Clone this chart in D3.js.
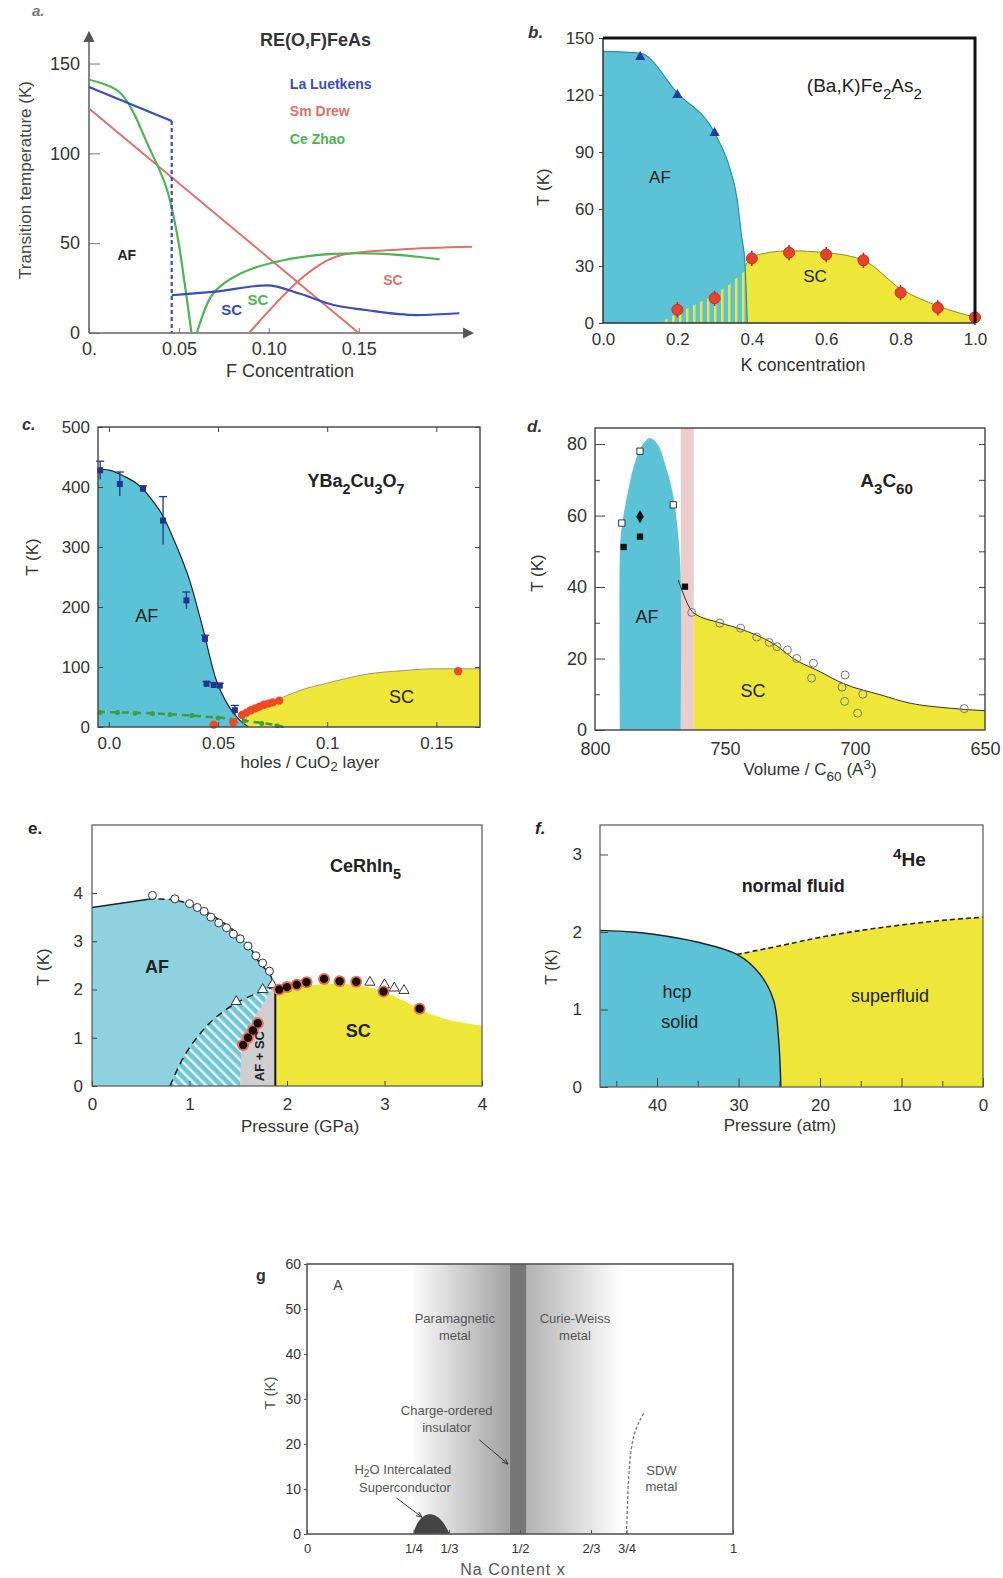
<!DOCTYPE html>
<html>
<head>
<meta charset="utf-8">
<script src="https://cdn.jsdelivr.net/npm/d3@7"></script>
<style>
  body { margin: 0; background: #fff; }
  svg text { font-family: "Liberation Sans", Arial, Helvetica, sans-serif; }
</style>
</head>
<body>
<svg id="fig" width="1003" height="1578"></svg>
<script>
// ---------- data: a. RE(O,F)FeAs ----------
const aXTicks = [0, 0.05, 0.10, 0.15];
const aXTickLabels = ["0.", "0.05", "0.10", "0.15"];
const aYTicks = [0, 50, 100, 150];
const aLaAF = [[0, 137], [0.046, 118]];
const aLaDrop = [[0.046, 118], [0.046, 0]];
const aLaSC = [[0.046, 21], [0.07, 23], [0.099, 26.5], [0.117, 22], [0.136, 15.6], [0.154, 12.8], [0.182, 10], [0.206, 11]];
const aSmAF = [[0, 125], [0.15, 0]];
const aSmSC = [[0.089, 0], [0.143, 44], [0.173, 46.5], [0.213, 48]];
const aCeAF = [[0, 141], [0.017, 134], [0.034, 102], [0.043, 81], [0.049, 55], [0.053, 29], [0.057, 0]];
const aCeSC = [[0.06, 0], [0.069, 22], [0.084, 33], [0.108, 40.5], [0.136, 44], [0.164, 44], [0.195, 41]];
const aLegend = ["La  Luetkens", "Sm  Drew", "Ce  Zhao"];

// ---------- data: b. (Ba,K)Fe2As2 ----------
const bXTicks = [0, 0.2, 0.4, 0.6, 0.8, 1.0];
const bYTicks = [0, 30, 60, 90, 120, 150];
const bAF = [[0, 143], [0.1, 142], [0.2, 121], [0.3, 100], [0.34, 82], [0.36, 66], [0.373, 45], [0.381, 33], [0.388, 0]];
const bSC = [[0.383, 30], [0.4, 35], [0.5, 38], [0.6, 37], [0.7, 33], [0.8, 18], [0.9, 9], [1.0, 3]];
const bCoex = [[0.15, 0], [0.2, 5], [0.25, 10], [0.3, 15], [0.35, 22], [0.385, 28]];
const bNeel = [[0.1, 140], [0.2, 120], [0.3, 100]];
const bTc = [[0.2, 7], [0.3, 13], [0.4, 34], [0.5, 37], [0.6, 36], [0.7, 33], [0.8, 16], [0.9, 8], [1.0, 3]];

// ---------- data: c. YBa2Cu3O7 ----------
const cXTicks = [0, 0.05, 0.1, 0.15];
const cXTickLabels = ["0.0", "0.05", "0.1", "0.15"];
const cYTicks = [0, 100, 200, 300, 400, 500];
const cAF = [[-0.005, 430], [0.0, 428], [0.007, 418], [0.013, 405], [0.019, 382], [0.025, 350], [0.03, 310], [0.037, 244], [0.043, 165], [0.049, 80], [0.055, 34], [0.06, 11], [0.064, 0]];
const cSC = [[0.061, 0], [0.063, 15], [0.067, 28], [0.072, 39], [0.08, 50], [0.0875, 61], [0.1, 73], [0.118, 88], [0.135, 94], [0.149, 97], [0.17, 97]];
const cNeel = [[-0.004, 428], [0.005, 405], [0.0156, 397], [0.0248, 344], [0.0355, 211], [0.044, 147], [0.0447, 72], [0.048, 70], [0.0508, 69], [0.0577, 28]];
const cNeelErr = [15, 20, 5, 40, 14, 6, 4, 4, 4, 8];
const cTc = [[0.048, 4], [0.057, 8], [0.061, 20], [0.063, 24], [0.065, 28], [0.067, 31], [0.069, 34], [0.071, 37], [0.073, 39], [0.075, 41], [0.078, 44], [0.16, 93]];
const cSpinGlass = [[-0.005, 25], [0.01, 24], [0.03, 21], [0.045, 17], [0.055, 14], [0.065, 9], [0.075, 4], [0.08, 0]];
const cSpinGlassPts = [[-0.004, 24], [0.004, 24], [0.012, 23], [0.02, 22], [0.028, 21], [0.038, 19], [0.05, 15], [0.062, 10], [0.07, 6], [0.077, 2]];

// ---------- data: d. A3C60 ----------
const dXTicks = [800, 750, 700, 650];
const dYTicks = [0, 20, 40, 60, 80];
const dAF = [[790.4, 0], [790.4, 50], [789.7, 57], [787.5, 66], [785, 74], [782, 79.5], [779, 81.7], [776, 80], [772.4, 72.8], [770, 66], [768.6, 58.8], [767.5, 50], [767, 42], [767, 0]];
const dSC = [[762, 32.7], [752, 30], [743, 28], [730, 23.5], [723.7, 20], [714, 16.5], [704.5, 13], [690, 9.8], [678.8, 7.5], [665, 6.2], [650, 5.4]];
const dBand = [767, 762];
const dOpenSq = [[789.7, 57.9], [782.7, 78], [769.9, 63]];
const dFilledSq = [[789, 51.2], [782.7, 54.1], [765.4, 40.1]];
const dDiamond = [[782.7, 59.7]];
const dOpenCirc = [[762.8, 32.9], [752, 29.9], [744, 28.5], [737.8, 26], [733, 24.5], [730, 23.3], [726, 22.4], [722.4, 20], [716, 18.7], [716.7, 14.5], [703.8, 15.4], [705, 12], [704, 8], [699, 4.7], [697, 10], [658, 6]];

// ---------- data: e. CeRhIn5 ----------
const eXTicks = [0, 1, 2, 3, 4];
const eYTicks = [0, 1, 2, 3, 4];
const eAFTop = [[0, 3.7], [0.58, 3.87], [0.83, 3.86], [1.07, 3.72], [1.38, 3.34], [1.59, 2.96], [1.72, 2.55], [1.83, 2.3], [1.86, 2.06]];
const eCoexRight = [[1.86, 2.05], [1.76, 1.72], [1.65, 1.37], [1.55, 0.89], [1.52, 0]];
const eCoexLeft = [[0.8, 0], [0.94, 0.6], [1.11, 1.09], [1.28, 1.44], [1.48, 1.72], [1.69, 1.92], [1.86, 2.05]];
const eSC = [[1.88, 2.0], [2.2, 2.08], [2.5, 2.12], [2.8, 2.06], [3.0, 1.95], [3.2, 1.76], [3.4, 1.55], [3.7, 1.35], [4.0, 1.25]];
const eBorder = 1.88;
const eOpenCirc = [[0.62, 3.95], [0.85, 3.88], [1.0, 3.78], [1.08, 3.7], [1.15, 3.62], [1.22, 3.5], [1.3, 3.38], [1.38, 3.28], [1.45, 3.15], [1.52, 3.05], [1.6, 2.9], [1.68, 2.7], [1.75, 2.55], [1.82, 2.38]];
const eTriangles = [[1.48, 1.75], [1.75, 2.0], [1.85, 2.1], [2.85, 2.15], [3.0, 2.1], [3.1, 2.03], [3.2, 1.98]];
const eDots = [[1.55, 0.85], [1.6, 1.0], [1.65, 1.15], [1.7, 1.3], [1.92, 2.0], [2.0, 2.05], [2.1, 2.1], [2.2, 2.15], [2.38, 2.22], [2.54, 2.17], [2.71, 2.16], [2.99, 1.96], [3.36, 1.6]];

// ---------- data: f. 4He ----------
const fXTicks = [40, 30, 20, 10, 0];
const fXMinor = [45, 35, 25, 15, 5];
const fYTicks = [0, 1, 2, 3];
const fSolid = [[47, 2.02], [43, 2.0], [40.4, 1.97], [35.1, 1.87], [30.2, 1.71], [27.4, 1.46], [25.7, 1.12], [25.1, 0.64], [24.8, 0]];
const fLambda = [[30.2, 1.71], [25, 1.82], [20, 1.93], [15, 2.02], [10, 2.09], [5, 2.15], [0, 2.19]];

// ---------- data: g. NaxCoO2 ----------
const gXTicks = [0, 1 / 4, 1 / 3, 1 / 2, 2 / 3, 3 / 4, 1];
const gXTickLabels = ["0", "1/4", "1/3", "1/2", "2/3", "3/4", "1"];
const gYTicks = [0, 10, 20, 30, 40, 50, 60];
const gGradLeft = [0.25, 0.476];
const gBand = [0.476, 0.515];
const gGradRight = [0.515, 0.74];
const gDome = [[0.249, 0], [0.258, 2.5], [0.274, 4.2], [0.29, 4.5], [0.306, 4.0], [0.322, 2.4], [0.335, 0]];
const gSDW = [[0.75, 0], [0.752, 6], [0.755, 12], [0.76, 18], [0.768, 22], [0.78, 25], [0.793, 27.2]];

// ---------- drawing ----------
const CYAN = "#5cc3d7", LIGHTCYAN = "#8ed2e0", YELLOW = "#eee638", FONT = '"Liberation Sans", Arial, sans-serif';
const svg = d3.select("#fig");
const defs = svg.append("defs");
const intFmt = d3.format("d");

defs.append("marker").attr("id", "arrow").attr("viewBox", "0 0 10 10")
  .attr("refX", 8).attr("refY", 5).attr("markerWidth", 7).attr("markerHeight", 7)
  .attr("orient", "auto-start-reverse")
  .append("path").attr("d", "M0,0L10,5L0,10z").attr("fill", "#555");
defs.append("marker").attr("id", "thinArrow").attr("viewBox", "0 0 10 10")
  .attr("refX", 9).attr("refY", 5).attr("markerWidth", 6).attr("markerHeight", 6)
  .attr("orient", "auto")
  .append("path").attr("d", "M0,1L10,5L0,9").attr("fill", "none").attr("stroke", "#333").attr("stroke-width", 1.5);

const stripes = defs.append("pattern").attr("id", "stripes").attr("patternUnits", "userSpaceOnUse")
  .attr("width", 7).attr("height", 10);
stripes.append("rect").attr("width", 2.5).attr("height", 10).attr("fill", YELLOW);

const hatch = defs.append("pattern").attr("id", "hatch").attr("patternUnits", "userSpaceOnUse")
  .attr("width", 7).attr("height", 7).attr("patternTransform", "rotate(-45)");
hatch.append("rect").attr("width", 7).attr("height", 7).attr("fill", "#6fc6d8");
hatch.append("rect").attr("width", 2.5).attr("height", 7).attr("fill", "#e4f2f4");

// text with sub/superscripts: parts are strings or [str, 1=sub / -1=sup]
function rich(g, x, y, parts, size, o = {}) {
  const t = g.append("text").attr("x", x).attr("y", y)
    .attr("font-size", size)
    .attr("text-anchor", o.anchor || "start")
    .attr("font-weight", o.weight || "normal")
    .attr("font-style", o.style || "normal")
    .attr("fill", o.fill || "#222");
  if (o.rotate) t.attr("transform", `rotate(${o.rotate},${x},${y})`);
  if (o.dy) t.attr("dy", o.dy);
  let shift = 0;
  parts.forEach(p => {
    const str = typeof p === "string" ? p : p[0];
    const k = typeof p === "string" ? 0 : p[1];
    const target = k * size * 0.38;
    t.append("tspan").text(str).attr("dy", target - shift).attr("font-size", k ? size * 0.8 : size);
    shift = target;
  });
  return t;
}

function styleAxis(sel, size, color) {
  sel.attr("font-size", size).attr("font-family", FONT).attr("color", color || "#444");
  sel.selectAll("text").attr("fill", "#333");
}

function frame(g, x, y, color, w) {
  const [x0, x1] = x.range(), [y0, y1] = y.range();
  g.append("rect").attr("x", Math.min(x0, x1)).attr("y", Math.min(y0, y1))
    .attr("width", Math.abs(x1 - x0)).attr("height", Math.abs(y1 - y0))
    .attr("fill", "none").attr("stroke", color || "#444").attr("stroke-width", w || 1.2);
}

function dots(g, pts, x, y, r, fill, stroke, sw) {
  g.selectAll(null).data(pts).enter().append("circle")
    .attr("cx", d => x(d[0])).attr("cy", d => y(d[1])).attr("r", r)
    .attr("fill", fill).attr("stroke", stroke || "none").attr("stroke-width", sw || 1);
}

function symbols(g, pts, x, y, type, size, fill, stroke, sw) {
  g.selectAll(null).data(pts).enter().append("path")
    .attr("transform", d => `translate(${x(d[0])},${y(d[1])})`)
    .attr("d", d3.symbol().type(type).size(size))
    .attr("fill", fill).attr("stroke", stroke || "none").attr("stroke-width", sw || 1);
}

// continue an open path with straight segments to the given data points
const lineTo = (x, y, pts) => pts.map(d => `L${x(d[0])},${y(d[1])}`).join("");

// ===== a. RE(O,F)FeAs =====
(function () {
  const g = svg.append("g");
  const x = d3.scaleLinear().domain([0, 0.213]).range([89, 472]);
  const y = d3.scaleLinear().domain([0, 167]).range([333, 33]);
  const lin = d3.line().x(d => x(d[0])).y(d => y(d[1]));
  const smooth = d3.line().x(d => x(d[0])).y(d => y(d[1])).curve(d3.curveMonotoneX);

  g.append("g").attr("transform", `translate(0,${y(0)})`)
    .call(d3.axisBottom(x).tickValues(aXTicks).tickFormat((d, i) => aXTickLabels[i]).tickSizeInner(-5).tickSizeOuter(0).tickPadding(9))
    .call(s => s.select(".domain").remove()).call(s => styleAxis(s, 18, "#777"));
  g.append("g").attr("transform", `translate(${x(0)},0)`)
    .call(d3.axisLeft(y).tickValues(aYTicks).tickSizeInner(-11).tickSizeOuter(0).tickPadding(9))
    .call(s => s.select(".domain").remove()).call(s => styleAxis(s, 18, "#777"));
  g.append("path").attr("d", lin([[0, 0], [0.213, 0]])).attr("stroke", "#666").attr("stroke-width", 1.6).attr("marker-end", "url(#arrow)");
  g.append("path").attr("d", lin([[0, 0], [0, 167]])).attr("stroke", "#666").attr("stroke-width", 1.6).attr("marker-end", "url(#arrow)");

  const red = "#e0706c", green = "#4fb352", blue = "#3a4cc0";
  [aSmAF, aSmSC].forEach(c => g.append("path").attr("d", smooth(c)).attr("fill", "none").attr("stroke", red).attr("stroke-width", 2));
  [aCeAF, aCeSC].forEach(c => g.append("path").attr("d", d3.line().x(d => x(d[0])).y(d => y(d[1])).curve(d3.curveCatmullRom)(c)).attr("fill", "none").attr("stroke", green).attr("stroke-width", 2.2));
  g.append("path").attr("d", lin(aLaAF)).attr("fill", "none").attr("stroke", blue).attr("stroke-width", 2.2);
  g.append("path").attr("d", lin(aLaDrop)).attr("fill", "none").attr("stroke", blue).attr("stroke-width", 2.2).attr("stroke-dasharray", "4,3");
  g.append("path").attr("d", smooth(aLaSC)).attr("fill", "none").attr("stroke", blue).attr("stroke-width", 2.2);

  rich(g, x(0.126), y(160), ["RE(O,F)FeAs"], 18, { anchor: "middle", weight: "bold", fill: "#333", dy: "0.35em" });
  [blue, red, green].forEach((c, i) =>
    rich(g, x(0.1117), y(136 - i * 15.3), [aLegend[i]], 14, { weight: "bold", fill: c, dy: "0.35em" }));
  rich(g, x(0.021), y(40.5), ["AF"], 14, { anchor: "middle", weight: "bold", dy: "0.35em" });
  rich(g, x(0.0794), y(10), ["SC"], 15, { anchor: "middle", weight: "bold", fill: blue, dy: "0.35em" });
  rich(g, x(0.0939), y(15.6), ["SC"], 15, { anchor: "middle", weight: "bold", fill: green, dy: "0.35em" });
  rich(g, x(0.169), y(26.7), ["SC"], 14, { anchor: "middle", weight: "bold", fill: red, dy: "0.35em" });
  rich(g, 290, 377, ["F Concentration"], 18, { anchor: "middle", fill: "#333" });
  rich(g, 31, 180, ["Transition temperature (K)"], 17, { anchor: "middle", fill: "#444", rotate: -90 });
  rich(g, 32, 16, ["a."], 15, { style: "italic", weight: "bold", fill: "#777" });
})();

// ===== b. (Ba,K)Fe2As2 =====
(function () {
  const g = svg.append("g");
  const x = d3.scaleLinear().domain([0, 1]).range([603, 975]);
  const y = d3.scaleLinear().domain([0, 150]).range([323, 38]);
  const area = d3.area().x(d => x(d[0])).y0(y(0)).y1(d => y(d[1])).curve(d3.curveMonotoneX);
  const smooth = d3.line().x(d => x(d[0])).y(d => y(d[1])).curve(d3.curveMonotoneX);

  g.append("path").attr("d", area(bSC)).attr("fill", YELLOW);
  g.append("path").attr("d", area(bAF)).attr("fill", CYAN);
  g.append("path").attr("d", area(bCoex)).attr("fill", "url(#stripes)");
  g.append("path").attr("d", smooth(bAF)).attr("fill", "none").attr("stroke", "#2a8fa8").attr("stroke-width", 1.2);
  g.append("path").attr("d", smooth(bSC)).attr("fill", "none").attr("stroke", "#8a8a30").attr("stroke-width", 1);

  // error bars + markers
  g.selectAll(null).data(bTc).enter().append("line")
    .attr("x1", d => x(d[0])).attr("x2", d => x(d[0]))
    .attr("y1", d => y(d[1] - 4)).attr("y2", d => y(d[1] + 4))
    .attr("stroke", "#9a2a1a").attr("stroke-width", 1.5);
  dots(g, bTc, x, y, 5.5, "#e8412c", "#c0301e", 1);
  symbols(g, bNeel, x, y, d3.symbolTriangle, 45, "#203c9c");

  g.append("g").attr("transform", `translate(0,${y(0)})`)
    .call(d3.axisBottom(x).tickValues(bXTicks).tickFormat(d3.format(".1f")).tickSizeInner(0).tickSizeOuter(0).tickPadding(10))
    .call(s => s.select(".domain").remove()).call(s => styleAxis(s, 17));
  g.append("g").attr("transform", `translate(${x(0)},0)`)
    .call(d3.axisLeft(y).tickValues(bYTicks).tickFormat(intFmt).tickSizeInner(4).tickSizeOuter(0).tickPadding(5))
    .call(s => s.select(".domain").remove()).call(s => styleAxis(s, 17));
  const lin = d3.line().x(d => x(d[0])).y(d => y(d[1]));
  g.append("path").attr("d", lin([[0, 150], [0, 0], [1, 0]])).attr("fill", "none").attr("stroke", "#333").attr("stroke-width", 1.5);
  g.append("path").attr("d", lin([[0, 150], [1, 150], [1, 0]])).attr("fill", "none").attr("stroke", "#111").attr("stroke-width", 3);

  rich(g, x(0.548), y(121.7), ["(Ba,K)Fe", ["2", 1], "As", ["2", 1]], 19, { fill: "#222" });
  rich(g, x(0.153), y(73.7), ["AF"], 17, { anchor: "middle", dy: "0.35em" });
  rich(g, x(0.57), y(21.6), ["SC"], 17, { anchor: "middle", dy: "0.35em" });
  rich(g, 803, 371, ["K concentration"], 18, { anchor: "middle", fill: "#333" });
  rich(g, 549, 187, ["T  (K)"], 17, { anchor: "middle", fill: "#333", rotate: -90 });
  rich(g, 528, 38, ["b."], 17, { style: "italic", weight: "bold", fill: "#333" });
})();

// ===== c. YBa2Cu3O7 =====
(function () {
  const g = svg.append("g");
  const x = d3.scaleLinear().domain([-0.005, 0.17]).range([98, 480]);
  const y = d3.scaleLinear().domain([0, 500]).range([727, 427]);
  const area = d3.area().x(d => x(d[0])).y0(y(0)).y1(d => y(d[1])).curve(d3.curveMonotoneX);
  const smooth = d3.line().x(d => x(d[0])).y(d => y(d[1])).curve(d3.curveMonotoneX);

  g.append("path").attr("d", area(cSC)).attr("fill", YELLOW);
  g.append("path").attr("d", area(cAF)).attr("fill", CYAN);
  g.append("path").attr("d", smooth(cAF)).attr("fill", "none").attr("stroke", "#223").attr("stroke-width", 1.2);
  g.append("path").attr("d", smooth(cSC)).attr("fill", "none").attr("stroke", "#997").attr("stroke-width", 1);
  g.append("path").attr("d", smooth(cSpinGlass)).attr("fill", "none").attr("stroke", "#3d9c3d").attr("stroke-width", 2.5).attr("stroke-dasharray", "7,5");
  dots(g, cSpinGlassPts, x, y, 2.5, "#3aa040");
  dots(g, cTc, x, y, 4.2, "#ee4a22");

  // Neel points with error bars
  g.selectAll(null).data(cNeel).enter().append("line")
    .attr("x1", d => x(d[0])).attr("x2", d => x(d[0]))
    .attr("y1", (d, i) => y(d[1] - cNeelErr[i])).attr("y2", (d, i) => y(d[1] + cNeelErr[i]))
    .attr("stroke", "#223388").attr("stroke-width", 1.3);
  g.selectAll(null).data(cNeel).enter().append("line")
    .attr("x1", d => x(d[0]) - 4).attr("x2", d => x(d[0]) + 4)
    .attr("y1", (d, i) => y(d[1] + cNeelErr[i])).attr("y2", (d, i) => y(d[1] + cNeelErr[i]))
    .attr("stroke", "#223388").attr("stroke-width", 1.3);
  symbols(g, cNeel, x, y, d3.symbolSquare, 36, "#22338c");

  const ax = s => s.call(t => t.select(".domain").remove());
  g.append("g").attr("transform", `translate(0,${y(0)})`)
    .call(d3.axisBottom(x).tickValues(cXTicks).tickFormat((d, i) => cXTickLabels[i]).tickSizeInner(-5).tickSizeOuter(0).tickPadding(10))
    .call(ax).call(s => styleAxis(s, 17));
  g.append("g").attr("transform", `translate(0,${y(500)})`)
    .call(d3.axisTop(x).tickValues(cXTicks).tickFormat("").tickSizeInner(-5).tickSizeOuter(0)).call(ax).call(s => styleAxis(s, 17));
  g.append("g").attr("transform", `translate(${x(-0.005)},0)`)
    .call(d3.axisLeft(y).tickValues(cYTicks).tickFormat(intFmt).tickSizeInner(-5).tickSizeOuter(0).tickPadding(8))
    .call(ax).call(s => styleAxis(s, 17));
  g.append("g").attr("transform", `translate(${x(0.17)},0)`)
    .call(d3.axisRight(y).tickValues(cYTicks).tickFormat("").tickSizeInner(-5).tickSizeOuter(0)).call(ax).call(s => styleAxis(s, 17));
  frame(g, x, y, "#444", 1.4);

  rich(g, x(0.091), y(400), ["YBa", ["2", 1], "Cu", ["3", 1], "O", ["7", 1]], 18, { weight: "bold", fill: "#222" });
  rich(g, x(0.0173), y(175), ["AF"], 18, { anchor: "middle", dy: "0.35em" });
  rich(g, x(0.134), y(40), ["SC"], 18, { anchor: "middle", dy: "0.35em" });
  rich(g, 310, 768, ["holes / CuO", ["2", 0.5], " layer"], 17, { anchor: "middle", fill: "#333" });
  rich(g, 38, 557, ["T  (K)"], 17, { anchor: "middle", fill: "#333", rotate: -90 });
  rich(g, 22, 430, ["c."], 16, { style: "italic", weight: "bold", fill: "#333" });
})();

// ===== d. A3C60 =====
(function () {
  const g = svg.append("g");
  const x = d3.scaleLinear().domain([800, 650]).range([595, 985]);
  const y = d3.scaleLinear().domain([0, 84.5]).range([730, 428]);
  const area = d3.area().x(d => x(d[0])).y0(y(0)).y1(d => y(d[1])).curve(d3.curveMonotoneX);
  const smooth = d3.line().x(d => x(d[0])).y(d => y(d[1])).curve(d3.curveMonotoneX);
  const cr = d3.line().x(d => x(d[0])).y(d => y(d[1])).curve(d3.curveCatmullRom);

  g.append("rect").attr("x", x(dBand[0])).attr("y", y(84.5))
    .attr("width", x(dBand[1]) - x(dBand[0])).attr("height", y(0) - y(84.5))
    .attr("fill", "#e6bcbc").attr("opacity", 0.75);
  g.append("path").attr("d", area(dSC)).attr("fill", YELLOW);
  g.append("path").attr("d", cr(dAF) + "Z").attr("fill", CYAN);
  g.append("path").attr("d", smooth([[768, 42]].concat(dSC))).attr("fill", "none").attr("stroke", "#333").attr("stroke-width", 1);

  dots(g, dOpenCirc, x, y, 4, "none", "#777", 1);
  symbols(g, dOpenSq, x, y, d3.symbolSquare, 40, "#fff", "#333", 1);
  symbols(g, dFilledSq, x, y, d3.symbolSquare, 40, "#111");
  symbols(g, dDiamond, x, y, d3.symbolDiamond, 50, "#111");

  const ax = s => s.call(t => t.select(".domain").remove());
  g.append("g").attr("transform", `translate(0,${y(0)})`)
    .call(d3.axisBottom(x).tickValues(dXTicks).tickFormat(intFmt).tickSizeInner(0).tickSizeOuter(0).tickPadding(12))
    .call(ax).call(s => styleAxis(s, 18));
  g.append("g").attr("transform", `translate(${x(800)},0)`)
    .call(d3.axisLeft(y).tickValues(dYTicks).tickFormat(intFmt).tickSizeInner(-10).tickSizeOuter(0).tickPadding(8))
    .call(ax).call(s => styleAxis(s, 18));
  g.append("g").attr("transform", `translate(${x(800)},0)`)
    .call(d3.axisLeft(y).tickValues([10, 30, 50, 70]).tickFormat("").tickSizeInner(-5).tickSizeOuter(0)).call(ax).call(s => styleAxis(s, 18));
  g.append("g").attr("transform", `translate(${x(650)},0)`)
    .call(d3.axisRight(y).tickValues([10, 20, 30, 40, 50, 60, 70, 80]).tickFormat("").tickSizeInner(-6).tickSizeOuter(0)).call(ax).call(s => styleAxis(s, 18));
  frame(g, x, y, "#444", 1.4);

  rich(g, x(698), y(68), ["A", ["3", 1], "C", ["60", 1]], 19, { weight: "bold", fill: "#222" });
  rich(g, x(780), y(30), ["AF"], 18, { anchor: "middle", dy: "0.35em" });
  rich(g, x(739.2), y(9.2), ["SC"], 18, { anchor: "middle", dy: "0.35em" });
  rich(g, 810, 775, ["Volume / C", ["60", 1], " (A", ["3", -1], ")"], 17, { anchor: "middle", fill: "#333" });
  rich(g, 543, 573, ["T  (K)"], 17, { anchor: "middle", fill: "#333", rotate: -90 });
  rich(g, 527, 432, ["d."], 17, { style: "italic", weight: "bold", fill: "#333" });
})();

// ===== e. CeRhIn5 =====
(function () {
  const g = svg.append("g");
  const x = d3.scaleLinear().domain([0, 4]).range([92, 482]);
  const y = d3.scaleLinear().domain([0, 5.41]).range([1086, 825]);
  const area = d3.area().x(d => x(d[0])).y0(y(0)).y1(d => y(d[1])).curve(d3.curveMonotoneX);
  const cr = d3.line().x(d => x(d[0])).y(d => y(d[1])).curve(d3.curveCatmullRom);
  const lin = d3.line().x(d => x(d[0])).y(d => y(d[1]));

  // AF region: top boundary, then down the coexistence edge, back to origin
  g.append("path").attr("d", cr(eAFTop) + cr(eCoexRight).replace(/^M/, "L") + lineTo(x, y, [[0, 0]]) + "Z").attr("fill", LIGHTCYAN);
  // AF+SC gray strip
  g.append("path").attr("d", cr(eCoexRight) + lineTo(x, y, [[eBorder, 0], [eBorder, 2.03]]) + "Z").attr("fill", "#cfcfcf");
  // hatched region
  g.append("path").attr("d", cr(eCoexLeft) + cr(eCoexRight).replace(/^M/, "L") + "Z").attr("fill", "url(#hatch)");
  g.append("path").attr("d", area(eSC)).attr("fill", YELLOW);

  g.append("path").attr("d", lin(eAFTop.slice(0, 2))).attr("fill", "none").attr("stroke", "#222").attr("stroke-width", 1.5);
  g.append("path").attr("d", cr(eAFTop.slice(1))).attr("fill", "none").attr("stroke", "#222").attr("stroke-width", 1.5).attr("stroke-dasharray", "6,4");
  g.append("path").attr("d", cr(eCoexLeft)).attr("fill", "none").attr("stroke", "#222").attr("stroke-width", 1.5).attr("stroke-dasharray", "7,5");
  g.append("path").attr("d", lin([[eBorder, 0], [eBorder, 2.0]])).attr("stroke", "#111").attr("stroke-width", 2);

  dots(g, eOpenCirc, x, y, 4, "#fff", "#333", 1);
  symbols(g, eTriangles, x, y, d3.symbolTriangle, 45, "#fff", "#333", 1);
  dots(g, eDots, x, y, 6, "#e87050", "none");
  dots(g, eDots, x, y, 4.2, "#1a0a0a");

  const ax = s => s.call(t => t.select(".domain").remove());
  g.append("g").attr("transform", `translate(0,${y(0)})`)
    .call(d3.axisBottom(x).tickValues(eXTicks).tickFormat(intFmt).tickSizeInner(-5).tickSizeOuter(0).tickPadding(12))
    .call(ax).call(s => styleAxis(s, 17));
  g.append("g").attr("transform", `translate(${x(0)},0)`)
    .call(d3.axisLeft(y).tickValues(eYTicks).tickFormat(intFmt).tickSizeInner(-5).tickSizeOuter(0).tickPadding(9))
    .call(ax).call(s => styleAxis(s, 17));
  frame(g, x, y, "#555", 1.2);

  rich(g, x(2.44), y(4.44), ["CeRhIn", ["5", 1]], 18, { weight: "bold", fill: "#222" });
  rich(g, x(0.667), y(2.34), ["AF"], 18, { anchor: "middle", weight: "bold", dy: "0.35em" });
  rich(g, x(2.73), y(1.02), ["SC"], 18, { anchor: "middle", weight: "bold", dy: "0.35em" });
  rich(g, x(1.76), y(0.62), ["AF + SC"], 13, { anchor: "middle", weight: "bold", rotate: -90, dy: "0.35em" });
  rich(g, 300, 1132, ["Pressure  (GPa)"], 17, { anchor: "middle", fill: "#333" });
  rich(g, 49, 967, ["T  (K)"], 17, { anchor: "middle", fill: "#333", rotate: -90 });
  rich(g, 28, 834, ["e."], 17, { weight: "bold", fill: "#222" });
})();

// ===== f. 4He =====
(function () {
  const g = svg.append("g");
  const x = d3.scaleLinear().domain([47, 0]).range([600, 983]);
  const y = d3.scaleLinear().domain([0, 3.38]).range([1087, 825]);
  const cr = d3.line().x(d => x(d[0])).y(d => y(d[1])).curve(d3.curveCatmullRom);

  g.append("path").attr("d", cr(fSolid) + lineTo(x, y, [[47, 0]]) + "Z").attr("fill", CYAN);
  g.append("path").attr("d", cr(fSolid.slice(4)) + lineTo(x, y, [[0, 0]]) + cr(fLambda.slice().reverse()).replace(/^M/, "L") + "Z").attr("fill", YELLOW);
  g.append("path").attr("d", cr(fSolid)).attr("fill", "none").attr("stroke", "#222").attr("stroke-width", 1.4);
  g.append("path").attr("d", cr(fLambda)).attr("fill", "none").attr("stroke", "#222").attr("stroke-width", 1.6).attr("stroke-dasharray", "5,3");

  const ax = s => s.call(t => t.select(".domain").remove());
  g.append("g").attr("transform", `translate(0,${y(0)})`)
    .call(d3.axisBottom(x).tickValues(fXTicks).tickFormat(intFmt).tickSizeInner(-9).tickSizeOuter(0).tickPadding(12))
    .call(ax).call(s => styleAxis(s, 17));
  g.append("g").attr("transform", `translate(0,${y(0)})`)
    .call(d3.axisBottom(x).tickValues(fXMinor).tickFormat("").tickSizeInner(-6).tickSizeOuter(0)).call(ax).call(s => styleAxis(s, 17));
  g.append("g").attr("transform", `translate(${x(47)},0)`)
    .call(d3.axisLeft(y).tickValues(fYTicks).tickFormat(intFmt).tickSizeInner(-8).tickSizeOuter(0).tickPadding(18))
    .call(ax).call(s => styleAxis(s, 17));
  frame(g, x, y, "#555", 1.2);

  rich(g, x(11.05), y(2.85), [["4", -1], "He"], 19, { weight: "bold", fill: "#222" });
  rich(g, x(23.3), y(2.52), ["normal  fluid"], 18, { anchor: "middle", weight: "bold", fill: "#222", dy: "0.35em" });
  rich(g, x(37.55), y(1.15), ["hcp"], 18, { anchor: "middle", fill: "#222", dy: "0.35em" });
  rich(g, x(37.2), y(0.76), ["solid"], 18, { anchor: "middle", fill: "#222", dy: "0.35em" });
  rich(g, x(11.4), y(1.1), ["superfluid"], 18, { anchor: "middle", fill: "#222", dy: "0.35em" });
  rich(g, 780, 1131, ["Pressure  (atm)"], 17, { anchor: "middle", fill: "#333" });
  rich(g, 557, 967, ["T  (K)"], 16, { anchor: "middle", fill: "#333", rotate: -90 });
  rich(g, 535, 834, ["f."], 17, { style: "italic", weight: "bold", fill: "#222" });
})();

// ===== g. NaxCoO2 =====
(function () {
  const g = svg.append("g");
  const x = d3.scaleLinear().domain([0, 1]).range([307, 733]);
  const y = d3.scaleLinear().domain([0, 60]).range([1534, 1264]);
  const lin = d3.line().x(d => x(d[0])).y(d => y(d[1]));
  const cr = d3.line().x(d => x(d[0])).y(d => y(d[1])).curve(d3.curveCatmullRom);
  const area = d3.area().x(d => x(d[0])).y0(y(0)).y1(d => y(d[1])).curve(d3.curveBasis);

  const gl = defs.append("linearGradient").attr("id", "gradL").attr("gradientUnits", "userSpaceOnUse")
    .attr("x1", x(gGradLeft[0])).attr("x2", x(gGradLeft[1])).attr("y1", 0).attr("y2", 0);
  gl.append("stop").attr("offset", 0).attr("stop-color", "#fafafa");
  gl.append("stop").attr("offset", 1).attr("stop-color", "#a2a2a2");
  const gr = defs.append("linearGradient").attr("id", "gradR").attr("gradientUnits", "userSpaceOnUse")
    .attr("x1", x(gGradRight[0])).attr("x2", x(gGradRight[1])).attr("y1", 0).attr("y2", 0);
  gr.append("stop").attr("offset", 0).attr("stop-color", "#b2b2b2");
  gr.append("stop").attr("offset", 1).attr("stop-color", "#ffffff");

  const band = (r, fill) => g.append("rect").attr("x", x(r[0])).attr("y", y(60))
    .attr("width", x(r[1]) - x(r[0])).attr("height", y(0) - y(60)).attr("fill", fill);
  band(gGradLeft, "url(#gradL)");
  band(gGradRight, "url(#gradR)");
  band(gBand, "#777");

  g.append("path").attr("d", area(gDome)).attr("fill", "#444");
  g.append("path").attr("d", cr(gSDW)).attr("fill", "none").attr("stroke", "#777").attr("stroke-width", 1.3).attr("stroke-dasharray", "3,2");

  const ax = s => s.call(t => t.select(".domain").remove());
  g.append("g").attr("transform", `translate(0,${y(0)})`)
    .call(d3.axisBottom(x).tickValues(gXTicks).tickFormat((d, i) => gXTickLabels[i]).tickSizeInner(-4).tickSizeOuter(0).tickPadding(10))
    .call(ax).call(s => styleAxis(s, 13, "#555"));
  g.append("g").attr("transform", `translate(${x(0)},0)`)
    .call(d3.axisLeft(y).tickValues(gYTicks).tickFormat(intFmt).tickSizeInner(3).tickSizeOuter(0).tickPadding(3))
    .call(ax).call(s => styleAxis(s, 14, "#555"));
  frame(g, x, y, "#555", 1.6);

  const tc = "#555";
  rich(g, x(0.0728), y(54.3), ["A"], 14, { anchor: "middle", fill: "#444", dy: "0.35em" });
  rich(g, x(0.347), y(46.9), ["Paramagnetic"], 13, { anchor: "middle", fill: tc, dy: "0.35em" });
  rich(g, x(0.347), y(43.2), ["metal"], 13, { anchor: "middle", fill: tc, dy: "0.35em" });
  rich(g, x(0.629), y(46.9), ["Curie-Weiss"], 13, { anchor: "middle", fill: tc, dy: "0.35em" });
  rich(g, x(0.629), y(43.2), ["metal"], 13, { anchor: "middle", fill: tc, dy: "0.35em" });
  rich(g, x(0.328), y(26.5), ["Charge-ordered"], 13, { anchor: "middle", fill: tc, dy: "0.35em" });
  rich(g, x(0.328), y(22.7), ["insulator"], 13, { anchor: "middle", fill: tc, dy: "0.35em" });
  rich(g, x(0.225), y(13.3), ["H", ["2", 0.5], "O Intercalated"], 13, { anchor: "middle", fill: tc, dy: "0.3em" });
  rich(g, x(0.23), y(9.4), ["Superconductor"], 13, { anchor: "middle", fill: tc, dy: "0.35em" });
  rich(g, x(0.832), y(13.1), ["SDW"], 13, { anchor: "middle", fill: tc, dy: "0.35em" });
  rich(g, x(0.832), y(9.6), ["metal"], 13, { anchor: "middle", fill: tc, dy: "0.35em" });
  g.append("path").attr("d", lin([[0.405, 20.9], [0.471, 15.6]])).attr("stroke", "#333").attr("stroke-width", 1).attr("marker-end", "url(#thinArrow)");
  g.append("path").attr("d", lin([[0.21, 8], [0.269, 3.8]])).attr("stroke", "#333").attr("stroke-width", 1).attr("marker-end", "url(#thinArrow)");

  rich(g, 513, 1575, ["Na Content   x"], 16, { anchor: "middle", fill: "#555" }).attr("letter-spacing", 1);
  rich(g, 275, 1393, ["T (K)"], 15, { anchor: "middle", fill: "#555", rotate: -90 });
  rich(g, 256, 1281, ["g"], 16, { weight: "bold", fill: "#333" });
})();
</script>
</body>
</html>
